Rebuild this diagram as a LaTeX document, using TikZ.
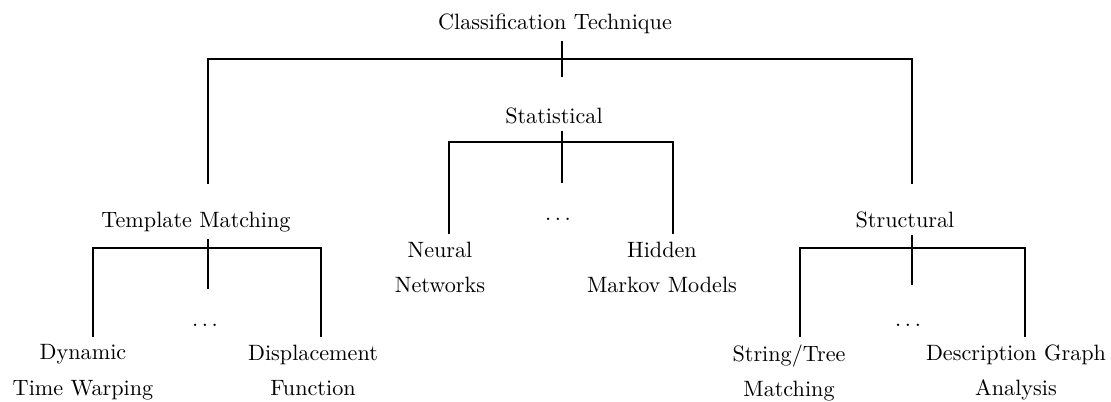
\documentclass[tikz,border=0pt]{standalone}
\usepackage{tikz}
\usetikzlibrary{calc}

\begin{document}
\begin{tikzpicture}[x=0.451pt, y=-0.451pt,
    branch/.style={line width=1.3pt},
    leaf/.style={anchor=north, align=center}]
    \useasboundingbox (0,0) rectangle (1111,401);

    % Labels
    \node[anchor=base] (root) at (555,29) {Classification Technique};
    \node[anchor=base] (stat) at (554,123) {Statistical};
    \node[anchor=base] (tm) at (196,227) {Template Matching};
    \node[anchor=base] (struc) at (905,227) {Structural};

    \node[leaf] (nn) at (440,234) {Neural\\[4pt]Networks};
    \node[leaf] (hmm) at (662,234) {Hidden\\[4pt]Markov Models};
    \node[leaf] (dtw) at (83,337) {Dynamic\\[4pt]Time Warping};
    \node[leaf] (disp) at (313,337) {Displacement\\[4pt]Function};
    \node[leaf] (str) at (789,337) {String/Tree\\[4pt]Matching};
    \node[leaf] (dga) at (1016,337) {Description Graph\\[4pt]Analysis};

    \node[anchor=base] (statdots) at (558,220) {$\ldots$};
    \node[anchor=base] (tmdots) at (205,326) {$\ldots$};
    \node[anchor=base] (strucdots) at (908,326) {$\ldots$};

    % Junctions
    \coordinate (rootj) at (562,59);
    \coordinate (statj) at (562,142);
    \coordinate (tmj) at (208,248);
    \coordinate (strucj) at (912,248);
    \coordinate (tmtop) at (208,184);
    \coordinate (structop) at (912,184);

    % Branches
    \draw[branch] (rootj |- root.south) -- ++(0,36);
    \draw[branch] (tmtop) |- (rootj) -| (structop);

    \draw[branch] (statj |- stat.south) -- ++(0,52);
    \draw[branch] ($(nn.north)+(9,0)$) |- (statj) -| ($(hmm.north)+(11,0)$);

    \draw[branch] (tmj |- tm.south) -- ++(0,50);
    \draw[branch] ($(dtw.north)+(10,0)$) |- (tmj) -| ($(disp.north)+(8,0)$);

    \draw[branch] (strucj |- struc.south) -- ++(0,50);
    \draw[branch] ($(str.north)+(11,0)$) |- (strucj) -| ($(dga.north)+(9,0)$);
\end{tikzpicture}
\end{document}
